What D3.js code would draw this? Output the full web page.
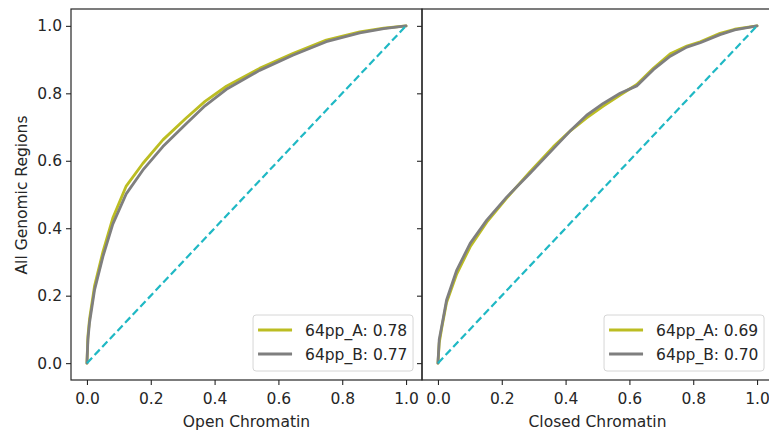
<!DOCTYPE html>
<html>
<head>
<meta charset="utf-8">
<script src="https://cdn.jsdelivr.net/npm/d3@7"></script>
<style>
  html, body { margin: 0; padding: 0; background: #fff; }
  svg { display: block; font-family: "DejaVu Sans", sans-serif; }
</style>
</head>
<body>
<svg id="chart" width="769" height="432"></svg>
<script>
// ROC-style curves: fraction of all genomic regions vs fraction of chromatin set
const panels = ["Open Chromatin", "Closed Chromatin"];
const seriesNames = ["64pp_A", "64pp_B"];
const aucOpen = [0.78, 0.77];
const aucClosed = [0.69, 0.70];
const tickValues = [0.0, 0.2, 0.4, 0.6, 0.8, 1.0];

const openFprA = [0, 0.003, 0.008, 0.024, 0.05, 0.081, 0.123, 0.175, 0.238, 0.311, 0.37, 0.437, 0.541, 0.645, 0.75, 0.855, 0.93, 1.0];
const openTprA = [0, 0.08, 0.13, 0.23, 0.33, 0.43, 0.525, 0.592, 0.662, 0.727, 0.776, 0.821, 0.874, 0.918, 0.958, 0.982, 0.993, 1.0];
const openFprB = [0, 0.003, 0.008, 0.024, 0.05, 0.081, 0.123, 0.175, 0.238, 0.311, 0.37, 0.437, 0.541, 0.645, 0.75, 0.855, 0.93, 1.0];
const openTprB = [0, 0.07, 0.12, 0.218, 0.316, 0.412, 0.502, 0.572, 0.642, 0.71, 0.763, 0.812, 0.868, 0.913, 0.953, 0.979, 0.992, 1.0];

const closedFprA = [0, 0.004, 0.012, 0.027, 0.059, 0.101, 0.153, 0.216, 0.288, 0.362, 0.414, 0.466, 0.518, 0.571, 0.623, 0.675, 0.728, 0.78, 0.822, 0.884, 0.93, 1.0];
const closedTprA = [0, 0.06, 0.105, 0.18, 0.265, 0.345, 0.418, 0.49, 0.567, 0.642, 0.688, 0.727, 0.762, 0.795, 0.826, 0.874, 0.917, 0.94, 0.953, 0.978, 0.99, 1.0];
const closedFprB = [0, 0.004, 0.012, 0.027, 0.059, 0.101, 0.153, 0.216, 0.288, 0.362, 0.414, 0.466, 0.518, 0.571, 0.623, 0.675, 0.728, 0.78, 0.822, 0.884, 0.93, 1.0];
const closedTprB = [0, 0.07, 0.11, 0.187, 0.276, 0.355, 0.424, 0.493, 0.562, 0.636, 0.688, 0.735, 0.77, 0.8, 0.822, 0.87, 0.91, 0.937, 0.95, 0.974, 0.988, 1.0];

const colors = ["#bcbd22", "#7f7f7f"];
const diagColor = "#1fb8c4";
const textColor = "#262626";
const fontSize = 15.5;

const panelData = [
  { title: panels[0], auc: aucOpen, curves: [[openFprA, openTprA], [openFprB, openTprB]] },
  { title: panels[1], auc: aucClosed, curves: [[closedFprA, closedTprA], [closedFprB, closedTprB]] }
];

const svg = d3.select("#chart");
const plotTop = 9, plotBottom = 380;
const panelLeft = [71, 422];
const panelWidth = 351;

const y = d3.scaleLinear().domain([-0.05, 1.05]).range([plotBottom, plotTop]);

panelData.forEach((p, i) => {
  const x = d3.scaleLinear().domain([-0.05, 1.05]).range([panelLeft[i], panelLeft[i] + panelWidth]);
  const g = svg.append("g");

  const clipId = "clip" + i;
  svg.append("clipPath").attr("id", clipId)
    .append("rect").attr("x", panelLeft[i]).attr("y", plotTop)
    .attr("width", panelWidth).attr("height", plotBottom - plotTop);

  const plot = g.append("g").attr("clip-path", `url(#${clipId})`);
  const line = d3.line().x(d => x(d[0])).y(d => y(d[1]));

  p.curves.forEach((c, k) => {
    const pts = c[0].map((fx, j) => [fx, c[1][j]]);
    plot.append("path")
      .attr("d", line(pts))
      .attr("fill", "none")
      .attr("stroke", colors[k])
      .attr("stroke-width", 2.8)
      .attr("stroke-linejoin", "round")
      .attr("stroke-linecap", "round");
  });

  plot.append("path")
    .attr("d", line([[0, 0], [1, 1]]))
    .attr("fill", "none")
    .attr("stroke", diagColor)
    .attr("stroke-width", 2.2)
    .attr("stroke-dasharray", "7.5,3.6");

  // x axis
  const xAxis = d3.axisBottom(x).tickValues(tickValues).tickFormat(d3.format(".1f")).tickSize(5).tickPadding(8);
  const xg = g.append("g").attr("transform", `translate(0,${plotBottom})`).call(xAxis);
  xg.select(".domain").remove();
  xg.selectAll("line").attr("stroke", textColor).attr("stroke-width", 1.1);
  xg.selectAll("text").attr("font-size", fontSize).attr("fill", textColor).attr("font-family", "DejaVu Sans");

  // y axis (labels only on the first panel)
  const yAxis = d3.axisLeft(y).tickValues(tickValues).tickSize(5).tickPadding(4)
    .tickFormat(i === 0 ? d3.format(".1f") : () => "");
  const yg = g.append("g").attr("transform", `translate(${panelLeft[i]},0)`).call(yAxis);
  yg.select(".domain").remove();
  yg.selectAll("line").attr("stroke", textColor).attr("stroke-width", 1.1);
  yg.selectAll("text").attr("font-size", fontSize).attr("fill", textColor).attr("font-family", "DejaVu Sans");

  // frame
  g.append("rect")
    .attr("x", panelLeft[i]).attr("y", plotTop)
    .attr("width", panelWidth).attr("height", plotBottom - plotTop)
    .attr("fill", "none").attr("stroke", textColor).attr("stroke-width", 1.2);

  // axis title
  g.append("text")
    .attr("x", x(0.5)).attr("y", 427)
    .attr("text-anchor", "middle")
    .attr("font-size", fontSize).attr("fill", textColor)
    .text(p.title);

  // legend
  const lx = x(1.0) - 153, ly = 315, lw = 160, lh = 56;
  const leg = g.append("g");
  leg.append("rect")
    .attr("x", lx).attr("y", ly).attr("width", lw).attr("height", lh)
    .attr("rx", 3).attr("fill", "#fff").attr("fill-opacity", 0.85)
    .attr("stroke", "#d6d6d6").attr("stroke-width", 1);
  seriesNames.forEach((name, k) => {
    const ry = ly + 15 + k * 24;
    leg.append("line")
      .attr("x1", lx + 5).attr("x2", lx + 39)
      .attr("y1", ry).attr("y2", ry)
      .attr("stroke", colors[k]).attr("stroke-width", 2.8);
    leg.append("text")
      .attr("x", lx + 52).attr("y", ry)
      .attr("dy", "0.36em")
      .attr("font-size", fontSize).attr("fill", textColor)
      .text(`${name}: ${p.auc[k].toFixed(2)}`);
  });
});

// shared y label
svg.append("text")
  .attr("transform", `translate(27,195) rotate(-90)`)
  .attr("text-anchor", "middle")
  .attr("font-size", fontSize).attr("fill", textColor)
  .text("All Genomic Regions");
</script>
</body>
</html>
